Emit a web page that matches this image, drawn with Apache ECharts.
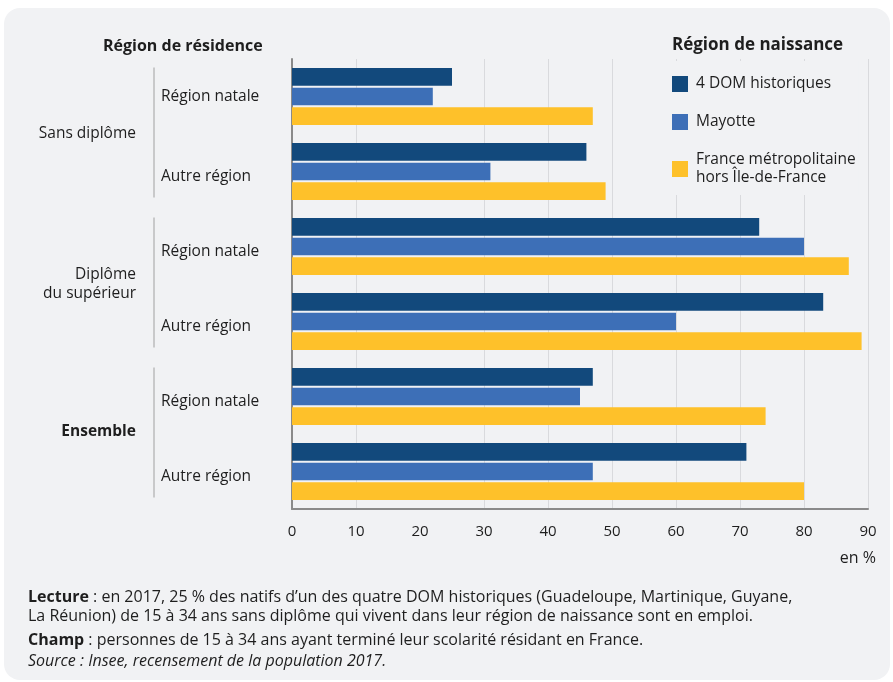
<!DOCTYPE html>
<html><head><meta charset="utf-8">
<script src="https://cdn.jsdelivr.net/npm/echarts@6/dist/echarts.min.js"></script>
<style>html,body{margin:0;padding:0;background:#fff}#c{width:893px;height:682px}</style>
</head><body><div id="c"></div>
<script>
// ---- data ----
const categories = ['Région natale', 'Autre région', 'Région natale', 'Autre région', 'Région natale', 'Autre région'];
const groups = ['Sans diplôme', 'Diplôme\ndu supérieur', 'Ensemble'];
const seriesNames = ['4 DOM historiques', 'Mayotte', 'France métropolitaine\nhors Île-de-France'];
const domValues = [25, 46, 73, 83, 47, 71];
const mayotteValues = [22, 31, 80, 60, 45, 47];
const metroValues = [47, 49, 87, 89, 74, 80];
const xMin = 0, xMax = 90, xInterval = 10;
const xUnit = 'en %';
const headerLeft = 'Région de résidence';
const headerRight = 'Région de naissance';
const noteLecture = 'en 2017, 25 % des natifs d’un des quatre DOM historiques (Guadeloupe, Martinique, Guyane,\nLa Réunion) de 15 à 34 ans sans diplôme qui vivent dans leur région de naissance sont en emploi.';
const noteChamp = 'personnes de 15 à 34 ans ayant terminé leur scolarité résidant en France.';
const noteSource = 'Source : Insee, recensement de la population 2017.';

// ---- style ----
const FONT = '"Open Sans", "Noto Sans", sans-serif';
const colors = ['#12497c', '#3d6fb7', '#fec12a'];
const TXT = '#1e1e1e';
const BG = '#f1f2f4';
const LBL = 15.5;
const NOTE = 16;
const gridLineColors = [];
for (let i = 0; i <= (xMax - xMin) / xInterval; i++) gridLineColors.push(i === 2 ? 'rgba(0,0,0,0)' : '#d9dadd');

const chart = echarts.init(document.getElementById('c'), null, {renderer: 'canvas'});

const seriesData = [domValues, mayotteValues, metroValues];
const noteStyle = {fontFamily: FONT, fontSize: NOTE, fontWeight: 'normal', color: TXT, lineHeight: 19,
  rich: {b: {fontFamily: FONT, fontSize: NOTE, fontWeight: 'bold', color: TXT, lineHeight: 19}}};
const option = {
  backgroundColor: '#ffffff',
  animation: false,
  textStyle: {fontFamily: FONT},
  title: [
    {text: headerLeft, left: 103, top: 38, padding: 0, textStyle: {fontFamily: FONT, fontSize: 16, fontWeight: 'bold', color: TXT}},
    {text: headerRight, left: 672, top: 37, padding: 0, textStyle: {fontFamily: FONT, fontSize: 17, fontWeight: 'bold', color: TXT}},
    {text: xUnit, right: 17, top: 550, padding: 0, textStyle: {fontFamily: FONT, fontSize: 16, fontWeight: 'normal', color: TXT}},
    {text: '{b|Lecture} : ' + noteLecture, left: 28, top: 588, padding: 0, textStyle: noteStyle},
    {text: '{b|Champ} : ' + noteChamp, left: 28, top: 631, padding: 0, textStyle: noteStyle},
    {text: noteSource, left: 28, top: 652, padding: 0,
     textStyle: {fontFamily: FONT, fontSize: NOTE, fontWeight: 'normal', fontStyle: 'italic', color: TXT, lineHeight: 19}}
  ],
  legend: {
    orient: 'vertical', left: 661, top: 61,
    padding: [14, 3, 8, 11],
    backgroundColor: BG,
    itemWidth: 16, itemHeight: 16, itemGap: 20,
    icon: 'rect',
    data: seriesNames,
    textStyle: {fontFamily: FONT, fontSize: LBL, color: TXT, lineHeight: 18, padding: [0, 0, 0, 3]}
  },
  grid: {left: 292, top: 59, width: 576, height: 450, containLabel: false},
  xAxis: {
    type: 'value', min: xMin, max: xMax, interval: xInterval,
    axisLine: {show: true, lineStyle: {color: '#8a8a8a', width: 2}},
    axisTick: {show: false},
    axisLabel: {fontFamily: FONT, fontSize: 15, color: TXT, margin: 15},
    splitLine: {show: true, lineStyle: {color: gridLineColors, width: 1}}
  },
  yAxis: [
    {
      type: 'category', data: categories, inverse: true,
      axisLine: {show: true, lineStyle: {color: '#8a8a8a', width: 2}},
      axisTick: {show: false},
      splitLine: {show: false},
      axisLabel: {
        align: 'left', margin: 131, fontFamily: FONT, fontSize: LBL, color: TXT,
        formatter: (v, i) => i === 0 ? '{a|' + v + '}' : '{b|' + v + '}',
        rich: {
          a: {fontFamily: FONT, fontSize: LBL, color: TXT},
          b: {fontFamily: FONT, fontSize: LBL, color: TXT, padding: [10, 0, 0, 0]}
        }
      }
    },
    {
      type: 'category', data: groups, inverse: true, gridIndex: 0, position: 'left',
      axisLine: {show: false}, axisTick: {show: false}, splitLine: {show: false},
      axisLabel: {
        align: 'right', margin: 156, fontFamily: FONT, fontSize: LBL, color: TXT, lineHeight: 19.5,
        formatter: (v) => v === 'Ensemble' ? '{e|' + v + '}' : v.split('\n').map(s => '{n|' + s + '}').join('\n'),
        rich: {
          n: {fontFamily: FONT, fontSize: LBL, color: TXT, lineHeight: 19.5, align: 'right'},
          e: {fontFamily: FONT, fontSize: LBL, fontWeight: 'bold', color: TXT, padding: [0, 0, 5, 0]}
        }
      }
    }
  ],
  series: seriesNames.map((name, k) => ({
    name: name, type: 'bar', yAxisIndex: 0,
    data: seriesData[k],
    itemStyle: {color: colors[k]},
    barGap: '11%', barCategoryGap: '24%'
  })),
  graphic: [
    {id: 'panel', type: 'rect', z: -100, silent: true,
     shape: {x: 4, y: 8, width: 886, height: 672, r: 16}, style: {fill: BG}}
  ]
};
chart.setOption(option);

// group separator lines derived from category positions
const sep = [];
for (let g = 0; g < groups.length; g++) {
  const yTop = chart.convertToPixel({yAxisIndex: 0}, 2 * g);
  const yBot = chart.convertToPixel({yAxisIndex: 0}, 2 * g + 1);
  sep.push({id: 'sep' + g, type: 'line', silent: true, z: 10,
    shape: {x1: 154, y1: yTop - 29, x2: 154, y2: yBot + 26},
    style: {stroke: '#a0a0a0', lineWidth: 1}});
}
chart.setOption({graphic: sep});
</script>
</body></html>
